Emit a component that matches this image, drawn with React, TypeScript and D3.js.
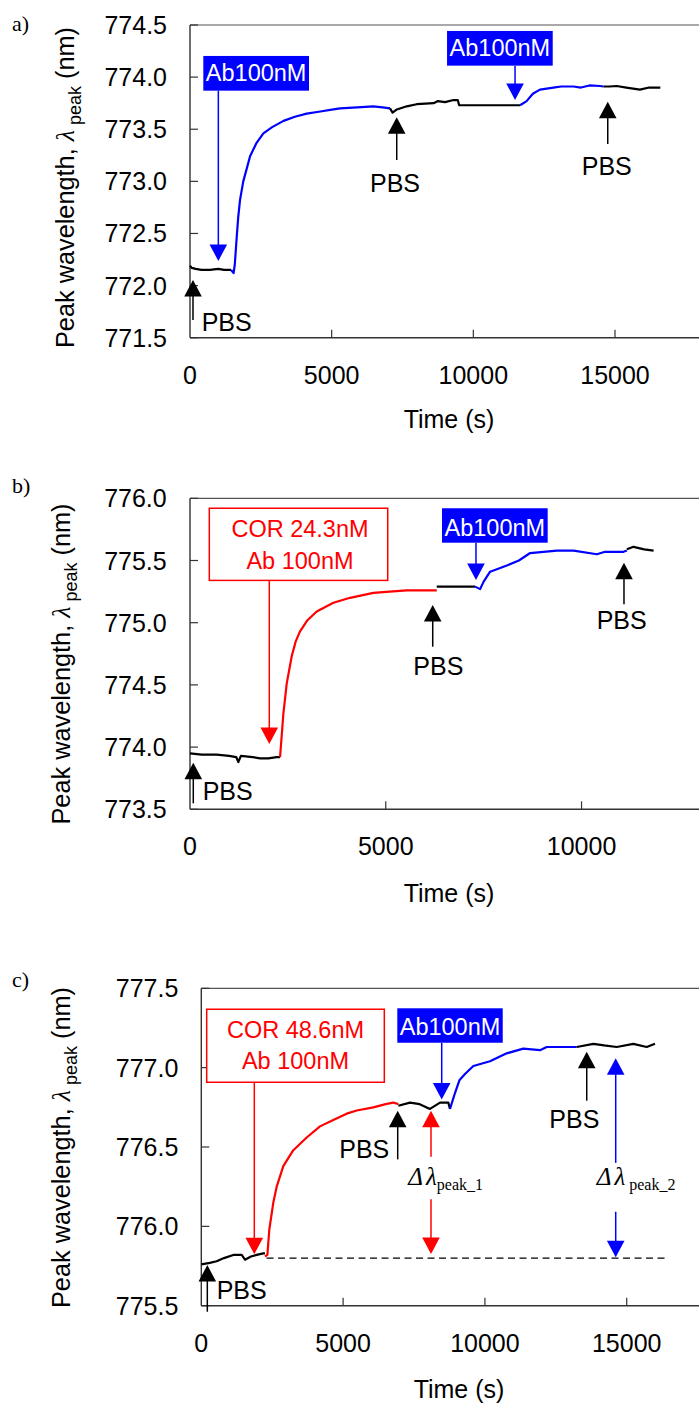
import React from "react";
import * as d3 from "d3";

type P = [number, number];

// ---------------- Data (time s, peak wavelength nm) ----------------
// Panel a
const aPbs1: P[] = [[0,772.19],[60,772.17],[200,772.16],[400,772.15],[700,772.15],[1000,772.16],[1200,772.15],[1450,772.15]];
const aAb1: P[] = [[1450,772.15],[1540,772.12],[1580,772.2],[1650,772.47],[1700,772.65],[1765,772.82],[1880,773.0],[2000,773.12],[2120,773.24],[2350,773.37],[2590,773.46],[2900,773.52],[3300,773.58],[3700,773.62],[4120,773.65],[4600,773.67],[5060,773.69],[5300,773.7],[5900,773.71],[6470,773.72],[6800,773.71],[7060,773.7]];
const aPbs2: P[] = [[7060,773.7],[7150,773.66],[7300,773.69],[7650,773.72],[8000,773.74],[8600,773.75],[8750,773.77],[9000,773.76],[9300,773.78],[9450,773.78],[9500,773.73],[10500,773.73],[11000,773.73],[11650,773.73]];
const aAb2: P[] = [[11650,773.73],[11880,773.77],[12100,773.84],[12350,773.88],[12825,773.9],[13100,773.91],[13530,773.91],[13800,773.9],[14100,773.92],[14470,773.915],[14590,773.91]];
const aPbs3: P[] = [[14590,773.91],[14800,773.91],[15060,773.915],[15400,773.9],[15880,773.88],[16200,773.9],[16600,773.9]];

// Panel b
const bPbs1: P[] = [[0,773.95],[300,773.94],[680,773.94],[1000,773.93],[1180,773.92],[1235,773.88],[1300,773.93],[1600,773.92],[1790,773.91],[2000,773.91],[2214,773.92],[2300,773.92]];
const bCor: P[] = [[2300,773.92],[2385,774.27],[2470,774.51],[2598,774.73],[2700,774.85],[2810,774.93],[3000,775.02],[3236,775.09],[3662,775.16],[4088,775.2],[4683,775.24],[5100,775.25],[5535,775.26],[6260,775.26],[6302,775.26]];
const bPbs2: P[] = [[6302,775.29],[6800,775.29],[7282,775.29]];
const bAb: P[] = [[7282,775.29],[7409,775.27],[7500,775.33],[7665,775.41],[8092,775.46],[8400,775.5],[8688,775.56],[9370,775.58],[9795,775.58],[10392,775.55],[10600,775.57],[11073,775.57],[11158,775.58]];
const bPbs3: P[] = [[11158,775.59],[11328,775.61],[11600,775.59],[11840,775.58]];

// Panel c
const cPbs1: P[] = [[0,775.76],[300,775.77],[542,775.78],[800,775.8],[1128,775.82],[1424,775.82],[1541,775.79],[1750,775.81],[1953,775.82],[2186,775.83],[2246,775.83]];
const cCor: P[] = [[2246,775.81],[2330,775.82],[2398,775.98],[2539,776.15],[2658,776.25],[2891,776.38],[3244,776.48],[3716,776.56],[4185,776.63],[4654,776.67],[5127,776.71],[5479,776.73],[6065,776.75],[6500,776.77],[6770,776.78],[6946,776.77]];
const cPbs2: P[] = [[6946,776.76],[7359,776.78],[7700,776.77],[8064,776.74],[8417,776.78],[8709,776.78],[8769,776.74]];
const cAb: P[] = [[8769,776.74],[8945,776.84],[9100,776.92],[9298,776.96],[9592,777.01],[10180,777.04],[10768,777.09],[11354,777.12],[11942,777.11],[12178,777.13],[13118,777.13],[13237,777.13]];
const cPbs3: P[] = [[13237,777.13],[13824,777.15],[14200,777.14],[14647,777.13],[15233,777.15],[15705,777.13],[15998,777.15]];
const cBaseline: P[] = [[2300,775.8],[16400,775.8]];

// Axis ticks
const xTicksA = [0, 5000, 10000, 15000];
const xTicksB = [0, 5000, 10000];
const xTicksC = [0, 5000, 10000, 15000];
const yTicksA = [771.5, 772.0, 772.5, 773.0, 773.5, 774.0, 774.5];
const yTicksB = [773.5, 774.0, 774.5, 775.0, 775.5, 776.0];
const yTicksC = [775.5, 776.0, 776.5, 777.0, 777.5];

const BLACK = "#000000";
const BLUE = "#0000ff";
const RED = "#ff0000";
const SANS = "'Liberation Sans', Arial, sans-serif";
const SERIF = "'Liberation Serif', 'Times New Roman', serif";

type Seg = { pts: P[]; color: string };
type BoxAnn = { kind: "box"; filled: boolean; color: string; lines: string[]; t0: number; t1: number; v0: number; v1: number; arrowT: number; tipV: number; textT: number; baseV: number[] };
type UpAnn = { kind: "up"; t: number; tipV: number; tailV: number; label: string; labelT: number; labelV: number; anchor: "start" | "middle" | "end" };
type DblAnn = { kind: "dbl"; t: number; color: string; topTip: number; topTail: number; botTail: number; botTip: number; sub: string; labelT: number; labelV: number; gap: boolean };
type Ann = BoxAnn | UpAnn | DblAnn;

type PanelCfg = {
  tag: string; tagX: number; tagY: number;
  left: number; right: number; top: number; bottom: number;
  xDomain: [number, number]; yDomain: [number, number];
  xTicks: number[]; yTicks: number[];
  segs: Seg[]; dashed?: P[];
  anns: Ann[];
  yLabX: number; yLabCy: number; yTickRight: number; xTickBase: number; timeBase: number; timeX: number;
};

const panels: PanelCfg[] = [
  {
    tag: "a)", tagX: 12, tagY: 31,
    left: 190, right: 700, top: 25, bottom: 337.7,
    xDomain: [0, 18000], yDomain: [771.5, 774.5], xTicks: xTicksA, yTicks: yTicksA,
    segs: [{ pts: aPbs1, color: BLACK }, { pts: aAb1, color: BLUE }, { pts: aPbs2, color: BLACK }, { pts: aAb2, color: BLUE }, { pts: aPbs3, color: BLACK }],
    anns: [
      { kind: "box", filled: true, color: BLUE, lines: ["Ab100nM"], t0: 470, t1: 4200, v0: 774.203, v1: 773.87, arrowT: 1000, tipV: 772.236, textT: 2335, baseV: [773.965] },
      { kind: "box", filled: true, color: BLUE, lines: ["Ab100nM"], t0: 9072, t1: 12802, v0: 774.443, v1: 774.11, arrowT: 11472, tipV: 773.78, textT: 10937, baseV: [774.205] },
      { kind: "up", t: 106, tipV: 772.053, tailV: 771.67, label: "PBS", labelT: 413, labelV: 771.564, anchor: "start" },
      { kind: "up", t: 7296, tipV: 773.615, tailV: 773.205, label: "PBS", labelT: 7236, labelV: 772.9, anchor: "middle" },
      { kind: "up", t: 14744, tipV: 773.764, tailV: 773.358, label: "PBS", labelT: 14708, labelV: 773.061, anchor: "middle" },
    ],
    yLabX: 74, yLabCy: 187.5, yTickRight: 167, xTickBase: 384, timeBase: 428, timeX: 449,
  },
  {
    tag: "b)", tagX: 12, tagY: 493,
    left: 190, right: 699, top: 498.3, bottom: 809.3,
    xDomain: [0, 13000], yDomain: [773.5, 776], xTicks: xTicksB, yTicks: yTicksB,
    segs: [{ pts: bPbs1, color: BLACK }, { pts: bCor, color: RED }, { pts: bPbs2, color: BLACK }, { pts: bAb, color: BLUE }, { pts: bPbs3, color: BLACK }],
    anns: [
      { kind: "box", filled: false, color: RED, lines: ["COR 24.3nM", "Ab 100nM"], t0: 493, t1: 5050, v0: 775.92, v1: 775.34, arrowT: 2025, tipV: 774.025, textT: 2810, baseV: [775.689, 775.43] },
      { kind: "box", filled: true, color: BLUE, lines: ["Ab100nM"], t0: 6436, t1: 9135, v0: 775.92, v1: 775.643, arrowT: 7304, tipV: 775.343, textT: 7786, baseV: [775.7] },
      { kind: "up", t: 84, tipV: 773.875, tailV: 773.548, label: "PBS", labelT: 324, labelV: 773.575, anchor: "start" },
      { kind: "up", t: 6199, tipV: 775.142, tailV: 774.807, label: "PBS", labelT: 6342, labelV: 774.58, anchor: "middle" },
      { kind: "up", t: 11084, tipV: 775.482, tailV: 775.148, label: "PBS", labelT: 11026, labelV: 774.947, anchor: "middle" },
    ],
    yLabX: 70, yLabCy: 664, yTickRight: 166.7, xTickBase: 855, timeBase: 901.7, timeX: 449,
  },
  {
    tag: "c)", tagX: 12, tagY: 986.7,
    left: 201.3, right: 711.8, top: 988.3, bottom: 1305.7,
    xDomain: [0, 18000], yDomain: [775.5, 777.5], xTicks: xTicksC, yTicks: yTicksC,
    segs: [{ pts: cPbs1, color: BLACK }, { pts: cCor, color: RED }, { pts: cPbs2, color: BLACK }, { pts: cAb, color: BLUE }, { pts: cPbs3, color: BLACK }],
    dashed: cBaseline,
    anns: [
      { kind: "box", filled: false, color: RED, lines: ["COR 48.6nM", "Ab 100nM"], t0: 190, t1: 6453, v0: 777.368, v1: 776.908, arrowT: 1869, tipV: 775.824, textT: 3322, baseV: [777.185, 776.99] },
      { kind: "box", filled: true, color: BLUE, lines: ["Ab100nM"], t0: 6911, t1: 10628, v0: 777.374, v1: 777.157, arrowT: 8477, tipV: 776.8, textT: 8770, baseV: [777.207] },
      { kind: "up", t: 212, tipV: 775.756, tailV: 775.462, label: "PBS", labelT: 543, labelV: 775.54, anchor: "start" },
      { kind: "up", t: 6925, tipV: 776.729, tailV: 776.422, label: "PBS", labelT: 6629, labelV: 776.429, anchor: "end" },
      { kind: "up", t: 13590, tipV: 777.1, tailV: 776.792, label: "PBS", labelT: 13152, labelV: 776.618, anchor: "middle" },
      { kind: "dbl", t: 8099, color: RED, topTip: 776.729, topTail: 776.439, botTail: 776.17, botTip: 775.826, sub: "peak_1", labelT: 7299, labelV: 776.26, gap: false },
      { kind: "dbl", t: 14612, color: BLUE, topTip: 777.059, topTail: 776.4, botTail: 776.092, botTip: 775.805, sub: "peak_2", labelT: 13942, labelV: 776.26, gap: true },
    ],
    yLabX: 70, yLabCy: 1147.5, yTickRight: 178.3, xTickBase: 1352, timeBase: 1398, timeX: 459,
  },
];

const HEAD_L = 16.5;
const HEAD_W = 8.8;
const AXIS = "#333333";

function ArrowHead({ x, y, dir, color }: { x: number; y: number; dir: 1 | -1; color: string }) {
  // dir 1 = pointing down (tip at y), -1 = pointing up
  const b = y - dir * HEAD_L;
  return <polygon points={`${x},${y} ${x - HEAD_W},${b} ${x + HEAD_W},${b}`} fill={color} />;
}

function Panel({ cfg }: { cfg: PanelCfg }) {
  const x = d3.scaleLinear().domain(cfg.xDomain).range([cfg.left, cfg.right]);
  const y = d3.scaleLinear().domain(cfg.yDomain).range([cfg.bottom, cfg.top]);
  const line = d3.line<P>().x((d) => x(d[0])).y((d) => y(d[1]));
  const fmtY = d3.format(".1f");
  const W = 699;

  return (
    <g>
      <text x={cfg.tagX} y={cfg.tagY} fontFamily={SERIF} fontSize={22}>{cfg.tag}</text>
      {/* frame */}
      <line x1={cfg.left} x2={W + 20} y1={cfg.top} y2={cfg.top} stroke="#555" strokeWidth={1.2} />
      <line x1={cfg.left} x2={W + 20} y1={cfg.bottom} y2={cfg.bottom} stroke={AXIS} strokeWidth={1.4} />
      <line x1={cfg.left} x2={cfg.left} y1={cfg.top} y2={cfg.bottom} stroke={AXIS} strokeWidth={1.4} />
      {cfg.yTicks.map((t) => (
        <g key={"y" + t}>
          <line x1={cfg.left} x2={cfg.left + 8} y1={y(t)} y2={y(t)} stroke={AXIS} strokeWidth={1.2} />
          <text x={cfg.yTickRight} y={y(t) + 9} textAnchor="end" fontFamily={SANS} fontSize={25} fill="#000">{fmtY(t)}</text>
        </g>
      ))}
      {cfg.xTicks.map((t) => (
        <g key={"x" + t}>
          {t > 0 && <line x1={x(t)} x2={x(t)} y1={cfg.bottom} y2={cfg.bottom - 8} stroke={AXIS} strokeWidth={1.2} />}
          <text x={x(t)} y={cfg.xTickBase} textAnchor="middle" fontFamily={SANS} fontSize={25} fill="#000">{t}</text>
        </g>
      ))}
      <text x={cfg.timeX} y={cfg.timeBase} textAnchor="middle" fontFamily={SANS} fontSize={25}>Time (s)</text>
      <text transform={`translate(${cfg.yLabX},${cfg.yLabCy}) rotate(-90)`} textAnchor="middle" fontFamily={SANS} fontSize={25.3}>
        <tspan>Peak wavelength, </tspan>
        <tspan fontFamily={SERIF} fontStyle="italic" fontSize={26}>λ</tspan>
        <tspan fontSize={18} dy={7}>{" peak"}</tspan>
        <tspan dy={-7}>{" (nm)"}</tspan>
      </text>

      {/* data */}
      {cfg.dashed && (
        <path d={line(cfg.dashed) || ""} fill="none" stroke="#000" strokeWidth={1.3} strokeDasharray="7,4.5" />
      )}
      {cfg.segs.map((s, i) => (
        <path key={i} d={line(s.pts) || ""} fill="none" stroke={s.color} strokeWidth={2.2} strokeLinejoin="round" />
      ))}

      {/* annotations */}
      {cfg.anns.map((a, i) => {
        if (a.kind === "box") {
          const bx0 = x(a.t0), bx1 = x(a.t1), by0 = y(a.v0), by1 = y(a.v1);
          const ax = x(a.arrowT), tip = y(a.tipV);
          return (
            <g key={i}>
              <rect x={bx0} y={by0} width={bx1 - bx0} height={by1 - by0}
                fill={a.filled ? a.color : "#fff"} stroke={a.color} strokeWidth={a.filled ? 0 : 1.5} />
              {a.lines.map((l, j) => (
                <text key={j} x={x(a.textT)} y={y(a.baseV[j])} textAnchor="middle" fontFamily={SANS}
                  fontSize={23.5} fill={a.filled ? "#fff" : a.color}>{l}</text>
              ))}
              <line x1={ax} x2={ax} y1={by1} y2={tip - HEAD_L + 1} stroke={a.color} strokeWidth={1.5} />
              <ArrowHead x={ax} y={tip} dir={1} color={a.color} />
            </g>
          );
        }
        if (a.kind === "up") {
          const ax = x(a.t), tip = y(a.tipV), tail = y(a.tailV);
          return (
            <g key={i}>
              <line x1={ax} x2={ax} y1={tail} y2={tip + HEAD_L - 1} stroke="#000" strokeWidth={1.5} />
              <ArrowHead x={ax} y={tip} dir={-1} color="#000" />
              <text x={x(a.labelT)} y={y(a.labelV)} textAnchor={a.anchor} fontFamily={SANS} fontSize={25}>{a.label}</text>
            </g>
          );
        }
        const ax = x(a.t);
        const tt = y(a.topTip), tl = y(a.topTail), bl = y(a.botTail), bt = y(a.botTip);
        return (
          <g key={i}>
            <line x1={ax} x2={ax} y1={tl} y2={tt + HEAD_L - 1} stroke={a.color} strokeWidth={1.5} />
            <ArrowHead x={ax} y={tt} dir={-1} color={a.color} />
            <line x1={ax} x2={ax} y1={bl} y2={bt - HEAD_L + 1} stroke={a.color} strokeWidth={1.5} />
            <ArrowHead x={ax} y={bt} dir={1} color={a.color} />
            <text x={x(a.labelT)} y={y(a.labelV)} fontFamily={SERIF} fontSize={25} fill="#000">
              <tspan fontStyle="italic">Δ</tspan>
              <tspan fontStyle="italic" dx={3}>λ</tspan>
              <tspan fontSize={16} dy={5} dx={a.gap ? 4 : 0}>{a.sub}</tspan>
            </text>
          </g>
        );
      })}
    </g>
  );
}

export default function App() {
  return (
    <svg width={699} height={1403} style={{ position: "absolute", left: 0, top: 0, background: "#fff" }}>
      <rect x={0} y={0} width={699} height={1403} fill="#fff" />
      {panels.map((p, i) => <Panel key={i} cfg={p} />)}
    </svg>
  );
}
